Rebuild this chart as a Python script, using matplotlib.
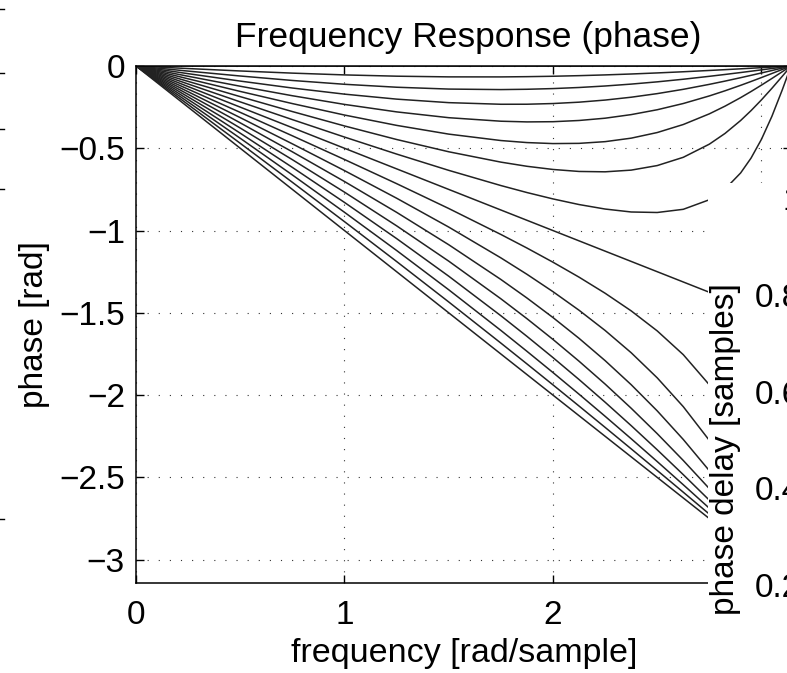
import numpy as np
import matplotlib
matplotlib.use("Agg")
import matplotlib.pyplot as plt
from matplotlib.patches import Rectangle
from matplotlib.lines import Line2D

plt.rcParams['font.family'] = ['Liberation Sans', 'DejaVu Sans']

freq = [0, 0.25, 0.5, 0.75, 1.0, 1.25, 1.5, 1.75, 1.875, 2.0, 2.125, 2.25, 2.375, 2.5, 2.625, 2.75]
# extra points near pi for the curves that come back up to 0
freq_tail = [2.825, 2.9, 2.95, 3.0, 3.05, 3.1, np.pi]

# delays of the curves (samples), 0 .. 1 in steps of 1/16
delays = [k / 16 for k in range(17)]

# phase [rad] of the upper fan (delay 0 .. 7/16), on freq + freq_tail
phase_upper = [
    [0] * 23,
    [0, -.0155, -.0302, -.0433, -.0541, -.0619, -.0661, -.0663, -.0648, -.0623, -.0587, -.0541,
     -.0486, -.0421, -.0350, -.0271,
     -.0222, -.0171, -.0136, -.0101, -.0065, -.0030, 0],
    [0, -.0310, -.0608, -.0879, -.1111, -.1290, -.1402, -.1433, -.1414, -.1372, -.1306, -.1215,
     -.1100, -.0963, -.0804, -.0627,
     -.0514, -.0397, -.0316, -.0235, -.0152, -.0069, 0],
    [0, -.0466, -.0917, -.1338, -.1710, -.2013, -.2227, -.2325, -.2323, -.2281, -.2198, -.2070,
     -.1897, -.1678, -.1417, -.1115,
     -.0918, -.0710, -.0567, -.0422, -.0274, -.0125, 0],
    [0, -.0623, -.1230, -.1807, -.2334, -.2788, -.3141, -.3355, -.3397, -.3385, -.3311, -.3172,
     -.2954, -.2658, -.2279, -.1818,
     -.1507, -.1174, -.0941, -.0701, -.0456, -.0208, 0],
    [0, -.0779, -.1545, -.2284, -.2980, -.3608, -.4139, -.4529, -.4653, -.4714, -.4701, -.4597,
     -.4385, -.4043, -.3555, -.2907,
     -.2441, -.1922, -.1550, -.1161, -.0758, -.0346, 0],
    [0, -.0936, -.1862, -.2769, -.3643, -.4466, -.5212, -.5841, -.6094, -.6287, -.6408, -.6430,
     -.6327, -.6050, -.5548, -.4749,
     -.4099, -.3312, -.2711, -.2056, -.1355, -.0622, 0],
    [0, -.1093, -.2181, -.3258, -.4318, -.5351, -.6341, -.7264, -.7689, -.8077, -.8419, -.8692,
     -.8871, -.8902, -.8708, -.8127,
     -.7481, -.6499, -.5595, -.4452, -.3057, -.1441, 0],
]

# phase [rad] of the lower fan (delay 8/16 .. 16/16), on freq only
phase_lower = [
    [0, -.125, -.25, -.375, -.5, -.625, -.75, -.875, -.9375, -1.0, -1.0625, -1.125,
     -1.1875, -1.25, -1.3125, -1.375],
    [0, -.1407, -.2819, -.4242, -.5682, -.7149, -.8659, -1.0236, -1.1061, -1.1923, -1.2831, -1.3808,
     -1.4879, -1.6098, -1.7542, -1.9373],
    [0, -.1564, -.3138, -.4731, -.6357, -.8034, -.9788, -1.1659, -1.2656, -1.3713, -1.4842, -1.6070,
     -1.7423, -1.8950, -2.0702, -2.2751],
    [0, -.1721, -.3455, -.5216, -.7020, -.8892, -1.0861, -1.2971, -1.4097, -1.5286, -1.6549, -1.7903,
     -1.9365, -2.0957, -2.2695, -2.4593],
    [0, -.1877, -.3770, -.5693, -.7666, -.9712, -1.1859, -1.4145, -1.5353, -1.6615, -1.7939, -1.9328,
     -2.0796, -2.2342, -2.3971, -2.5682],
    [0, -.2034, -.4083, -.6162, -.8290, -1.0487, -1.2773, -1.5175, -1.6427, -1.7719, -1.9052, -2.0430,
     -2.1853, -2.3322, -2.4833, -2.6385],
    [0, -.2190, -.4392, -.6621, -.8889, -1.1210, -1.3598, -1.6067, -1.7336, -1.8628, -1.9944, -2.1285,
     -2.2650, -2.4037, -2.5446, -2.6873],
    [0, -.2345, -.4698, -.7067, -.9459, -1.1881, -1.4339, -1.6837, -1.8102, -1.9377, -2.0663, -2.1959,
     -2.3264, -2.4579, -2.5900, -2.7229],
    [0, -.25, -.5, -.75, -1.0, -1.25, -1.5, -1.75, -1.875, -2.0, -2.125, -2.25,
     -2.375, -2.5, -2.625, -2.75],
]

xticks = [0, 1, 2, 3]
xtick_labels = ['0', '1', '2', '3']
yticks = [-3, -2.5, -2, -1.5, -1, -0.5, 0]
ytick_labels = ['\u22123', '\u22122.5', '\u22122', '\u22121.5', '\u22121', '\u22120.5', '0']

# ticks of the neighbouring "phase delay" panel (cut off at the right)
delay_ticks = [0.2, 0.4, 0.6, 0.8, 1.0]
delay_tick_labels = ['0.2', '0.4', '0.6', '0.8', '1']

W, H = 787, 673
fig = plt.figure(figsize=(W / 100, H / 100), dpi=100)

ax = fig.add_axes([136 / W, 1 - 583 / H, (791 - 136) / W, (583 - 66) / H])
full_freq = freq + freq_tail
for ph in phase_upper:
    ax.plot(full_freq, ph, color='#222222', lw=1.1)
for ph in phase_lower:
    ax.plot(freq, ph, color='#222222', lw=1.1)

ax.set_xlim(0, np.pi)
ax.set_ylim(-np.pi, 0)
ax.set_xticks(xticks)
ax.set_xticklabels(xtick_labels)
ax.set_yticks(yticks)
ax.set_yticklabels(ytick_labels)
ax.grid(True, color='#333333', linestyle=(0, (1, 9)), lw=0.8)
ax.tick_params(direction='in', top=True, right=True, length=6, width=1.0,
               labelsize=24)
ax.tick_params(axis='x', pad=12)
ax.tick_params(axis='y', pad=8)
for s in ax.spines.values():
    s.set_linewidth(1.1)
ax.set_title('Frequency Response (phase)', fontsize=25.5, pad=13.5)
ax.title.set_x(0.507)
ax.set_xlabel('frequency [rad/sample]', fontsize=24.5)
ax.xaxis.set_label_coords(464 / W, 1 - 638 / H, transform=fig.transFigure)
ax.set_ylabel('phase [rad]', fontsize=24)
ax.yaxis.set_label_coords(50 / W, 1 - 325 / H, transform=fig.transFigure)

# background of the overlapping panel on the right
fig.add_artist(Rectangle((708 / W, 0), 1 - 708 / W, 1 - 183 / H,
                         transform=fig.transFigure, facecolor='white',
                         edgecolor='none', zorder=1))

# the overlapping panel: only its y tick labels and label are inside the crop
ax2 = fig.add_axes([812 / W, 1 - 600 / H, 0.3, (600 - 183) / H])
ax2.set_zorder(2)
ax2.patch.set_visible(False)
ax2.set_ylim(0.2 - 15 / 483.75, 0.2 + 402 / 483.75)
ax2.set_yticks(delay_ticks)
ax2.set_yticklabels(delay_tick_labels)
ax2.set_xticks([])
for s in ax2.spines.values():
    s.set_visible(False)
ax2.tick_params(axis='y', direction='in', length=0, labelsize=24, pad=8)
ax2.set_ylabel('phase delay [samples]', fontsize=24)
ax2.yaxis.set_label_coords(741 / W, 1 - 449 / H, transform=fig.transFigure)

# tick stubs of the panel cut off on the left
for yp in [9, 73, 129, 189, 519]:
    fig.add_artist(Line2D([0, 4 / W], [1 - yp / H, 1 - yp / H],
                          transform=fig.transFigure, color='black', lw=1.0))

fig.savefig('out.png', dpi=100)
